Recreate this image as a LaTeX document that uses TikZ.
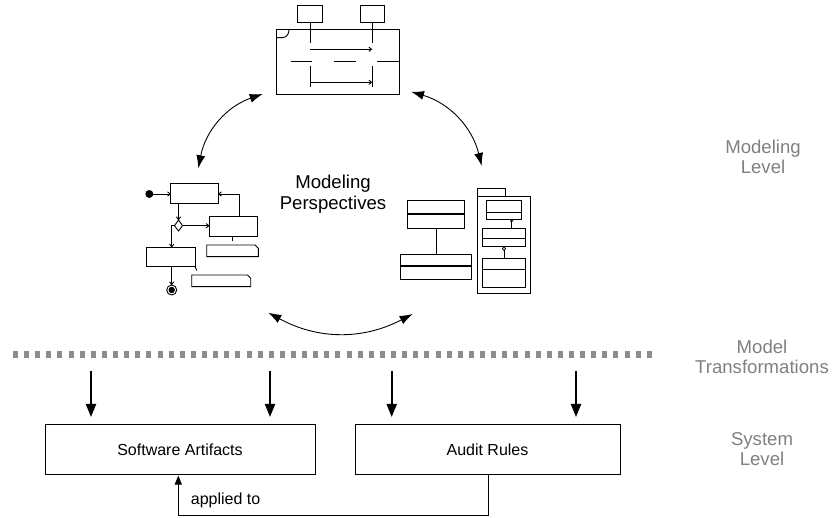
\documentclass[tikz,border=0pt]{standalone}
\usepackage{fontspec}
\setmainfont{Liberation Sans}
\usetikzlibrary{arrows.meta}
\begin{document}
\begin{tikzpicture}[x=1pt,y=-1pt,
  pic/.style={line width=0.9pt},
  thk/.style={line width=1.6pt},
  sm/.style={line width=0.9pt,-{To[length=3.5pt,width=5pt]}},
  box/.style={draw, line width=1pt, minimum height=50pt, inner sep=0pt, font=\fontsize{16}{19}\selectfont},
  lvl/.style={text=black!50, align=center, font=\fontsize{18.6}{20.5}\selectfont},
  cyc/.style={line width=0.9pt, {Latex[length=13pt,width=9pt]}-{Latex[length=13pt,width=9pt]}},
  down/.style={line width=2pt, -{Triangle[length=13pt,width=10pt]}},
  fb/.style={line width=1pt, -{Triangle[length=9pt,width=7pt]}},
]
\useasboundingbox (0,0) rectangle (833,518);

% ---------- sequence diagram ----------
\begin{scope}[pic]
\draw (297,5) rectangle (322,22);
\draw (360,5) rectangle (384,22);
\draw (276,29) rectangle (399,94);
\draw (276,37.7) -- (282,37.7) .. controls (287,37.7) and (289,34) .. (289,29);
\draw (310,22) -- (310,43);
\draw (310,66) -- (310,87.5);
\draw (372,22) -- (372,43);
\draw (372,66) -- (372,87.5);
\draw[sm] (310,49.3) -- (372,49.3);
\draw[sm] (310,82.3) -- (372,82.3);
\draw (290.7,61.7) -- (311.7,61.7);
\draw (334,61.7) -- (355.7,61.7);
\draw (377,61.7) -- (399,61.7);
\end{scope}

% ---------- activity diagram ----------
\begin{scope}[pic]
\fill (149.3,194) circle (4);
\draw[sm] (153,194) -- (170.7,194);
\draw (170.7,183.3) rectangle (218.3,203.3);
\draw[sm] (178.5,203.3) -- (178.5,220);
\draw (178.5,220) -- (182.5,225.7) -- (178.5,231) -- (174.5,225.7) -- cycle;
\draw[sm] (182.5,225.7) -- (209.3,225.7);
\draw (209.3,216) rectangle (257.7,236);
\draw[sm] (239,216) -- (239,194) -- (218.3,194);
\draw[sm] (174.5,225.7) -- (171.7,225.7) -- (171.7,247.3);
\draw (146.7,247.3) rectangle (195,266.7);
\draw[sm] (171.7,266.7) -- (171.7,285);
\draw (171.7,290) circle (5);
\fill (171.7,290) circle (3.2);
\draw (206.7,245) -- (255,245) -- (258.3,248.3) -- (258.3,256.7) -- (206.7,256.7) -- cycle;
\draw (232.7,236) -- (232.7,240.7);
\draw (191.7,275) -- (247.5,275) -- (250.7,278.3) -- (250.7,286.7) -- (191.7,286.7) -- cycle;
\draw (195,266.7) -- (197,270.5);
\end{scope}

% ---------- class diagram ----------
\begin{scope}[pic]
\draw (407.3,200.7) rectangle (464,228.3);
\draw[thk] (407.3,214) -- (464,214);
\draw (436.7,228.3) -- (436.7,254);
\draw (400.7,254) rectangle (471,279.3);
\draw[thk] (400.7,266) -- (471,266);
\draw (477.3,188.3) rectangle (505,196.7);
\draw (477.3,196.7) rectangle (530,293.3);
\draw (486.7,200.7) rectangle (521.7,219.3);
\draw (486.7,212.3) -- (521.7,212.3);
\draw (482.7,228.3) rectangle (525.7,246.7);
\draw (482.7,238.3) -- (525.7,238.3);
\draw (482.7,258.3) rectangle (525.7,287.3);
\draw (482.7,269) -- (525.7,269);
\draw[-{To[length=2.5pt,width=3.5pt]}] (511.7,228.3) -- (511.7,219.3);
\draw (504,250.5) -- (504,258.3);
\draw[line width=0.8pt] (504,246.7) -- (505.6,248.6) -- (504,250.5) -- (502.4,248.6) -- cycle;
\end{scope}

% ---------- cycle arrows ----------
\coordinate (c1s) at (262.7,94);
\coordinate (c1e) at (198.3,168.3);
\coordinate (c2s) at (411,91.7);
\coordinate (c2e) at (481.7,166);
\coordinate (c3s) at (268.3,312.7);
\coordinate (c3e) at (412.7,314);
\draw[cyc] (c1s) to[bend right=30] (c1e);
\draw[cyc] (c2s) to[bend left=30] (c2e);
\draw[cyc] (c3s) to[bend right=28] (c3e);

\node[align=center, font=\fontsize{18.6}{21.5}\selectfont] (persp) at (333,194) {Modeling\\Perspectives};

% ---------- level labels ----------
\node[lvl] (lmod) at (763,157) {Modeling\\Level};
\node[lvl] (ltra) at (762,357) {Model\\Transformations};
\node[lvl] (lsys) at (762,449) {System\\Level};

% ---------- transformation bar ----------
\draw[line width=7pt, black!45, dash pattern=on 5pt off 6.12pt] (13,355) -- (652,355);

\foreach \x/\n in {91/a,270/b,391.7/c,576/d}{
  \coordinate (t\n) at (\x,370.7);
  \coordinate (h\n) at (\x,417);
  \draw[down] (t\n) -- (h\n);
}

% ---------- system level ----------
\node[box, minimum width=270pt] (soft) at (180,450) {Software Artifacts};
\node[box, minimum width=265pt] (audit) at (487.5,450) {Audit Rules};
\coordinate (fbx) at (488.3,515);
\coordinate (fby) at (178.3,515);
\draw[fb] (audit.south -| fbx) -- (fbx) -- (fby) -- (soft.south -| fby);
\node[anchor=west, inner sep=0pt, font=\fontsize{16}{19}\selectfont] (lab) at (190.7,500) {applied to};
\end{tikzpicture}
\end{document}
